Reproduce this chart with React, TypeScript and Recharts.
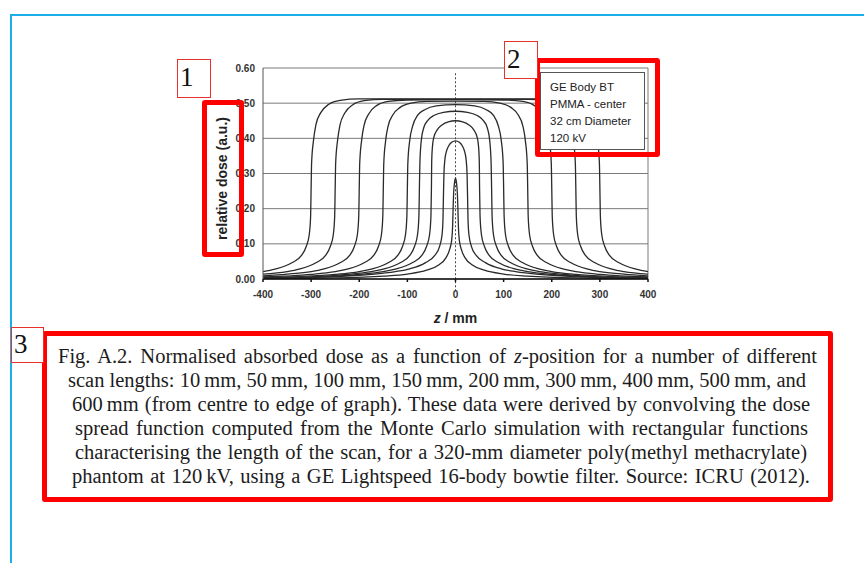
import React from 'react';
import { LineChart, Line, XAxis, YAxis, CartesianGrid, ReferenceLine } from 'recharts';

// half profiles (z >= 0, mm) of relative dose for each scan length
const scan10: [number, number][] = [
  [0, 0.287], [2, 0.275], [4, 0.24], [5, 0.2], [6, 0.15], [8, 0.11], [12, 0.085],
  [20, 0.06], [35, 0.04], [60, 0.025], [100, 0.014], [150, 0.008], [250, 0.003], [400, 0.001],
];
const scan50: [number, number][] = [
  [0, 0.393], [8, 0.389], [14, 0.379], [19, 0.362], [22, 0.34], [24, 0.3], [25, 0.24],
  [26, 0.17], [28, 0.125], [33, 0.093], [43, 0.067], [63, 0.046], [95, 0.029], [125, 0.021],
  [175, 0.013], [250, 0.007], [400, 0.002],
];
const scan100: [number, number][] = [
  [0, 0.45], [15, 0.447], [28, 0.438], [38, 0.424], [45, 0.403], [48, 0.375], [49.5, 0.33],
  [50, 0.26], [51, 0.18], [54, 0.125], [60, 0.093], [70, 0.067], [90, 0.046], [125, 0.028],
  [150, 0.021], [200, 0.013], [275, 0.006], [400, 0.002],
];
const scan150: [number, number][] = [
  [0, 0.477], [25, 0.474], [45, 0.465], [57, 0.452], [66, 0.43], [71, 0.395], [74, 0.33],
  [75, 0.26], [76, 0.18], [79, 0.125], [85, 0.093], [95, 0.067], [115, 0.046], [150, 0.028],
  [175, 0.021], [225, 0.013], [300, 0.006], [400, 0.003],
];
const scan200: [number, number][] = [
  [0, 0.496], [40, 0.492], [63, 0.482], [79, 0.465], [89, 0.435], [95, 0.395], [99, 0.33],
  [100, 0.26], [101, 0.18], [104, 0.125], [110, 0.093], [120, 0.067], [140, 0.046],
  [175, 0.028], [200, 0.021], [250, 0.013], [325, 0.007], [400, 0.004],
];
const scan300: [number, number][] = [
  [0, 0.506], [60, 0.505], [92, 0.5], [115, 0.488], [130, 0.467], [140, 0.435], [145, 0.395],
  [149, 0.33], [150, 0.26], [151, 0.18], [154, 0.125], [160, 0.093], [170, 0.067],
  [190, 0.046], [225, 0.028], [250, 0.021], [300, 0.013], [400, 0.006],
];
const scan400: [number, number][] = [
  [0, 0.51], [100, 0.509], [140, 0.505], [164, 0.493], [180, 0.47], [190, 0.437],
  [195, 0.395], [199, 0.33], [200, 0.26], [201, 0.18], [204, 0.125], [210, 0.093],
  [220, 0.067], [240, 0.046], [275, 0.028], [300, 0.021], [350, 0.014], [400, 0.009],
];
const scan500: [number, number][] = [
  [0, 0.511], [150, 0.511], [190, 0.507], [214, 0.495], [230, 0.472], [240, 0.438],
  [245, 0.395], [249, 0.33], [250, 0.26], [251, 0.18], [254, 0.125], [260, 0.093],
  [270, 0.067], [290, 0.046], [325, 0.028], [350, 0.021], [400, 0.014],
];
const scan600: [number, number][] = [
  [0, 0.512], [200, 0.512], [240, 0.508], [264, 0.496], [280, 0.473], [290, 0.439],
  [295, 0.395], [299, 0.33], [300, 0.26], [301, 0.18], [304, 0.125], [310, 0.093],
  [320, 0.067], [340, 0.046], [375, 0.028], [400, 0.021],
];

const xTicks = [-400, -300, -200, -100, 0, 100, 200, 300, 400];
const yTicks = [0, 0.1, 0.2, 0.3, 0.4, 0.5, 0.6];

const legendLines = ['GE Body BT', 'PMMA - center', '32 cm Diameter', '120 kV'];

const captionLines = [
  'Fig. A.2. Normalised absorbed dose as a function of |z|-position for a number of different',
  'scan lengths: 10\u2009mm, 50\u2009mm, 100 mm, 150\u2009mm, 200\u2009mm, 300\u2009mm, 400\u2009mm, 500\u2009mm, and',
  '600\u2009mm (from centre to edge of graph). These data were derived by convolving the dose',
  'spread function computed from the Monte Carlo simulation with rectangular functions',
  'characterising the length of the scan, for a 320-mm diameter poly(methyl methacrylate)',
  'phantom at 120\u2009kV, using a GE Lightspeed 16-body bowtie filter. Source: ICRU (2012).',
];

// profiles are symmetric about z = 0
const mirror = (half: [number, number][]) => [
  ...half.filter(([z]) => z > 0).reverse().map(([z, dose]) => ({ z: -z, dose })),
  ...half.map(([z, dose]) => ({ z, dose })),
];

const curves = [scan10, scan50, scan100, scan150, scan200, scan300, scan400, scan500, scan600].map(mirror);

const tickStyle = { fill: '#333', fontSize: 10, fontWeight: 700, fontFamily: 'Liberation Sans, Arial, sans-serif' };

function YLabel(props: any) {
  const { viewBox } = props;
  const x = viewBox.x + 19;
  const y = viewBox.y + viewBox.height / 2 + 5;
  return (
    <text
      x={x}
      y={y}
      transform={`rotate(-90 ${x} ${y})`}
      textAnchor="middle"
      dominantBaseline="central"
      fill="#222"
      fontSize={14}
      fontWeight={700}
      fontFamily="Liberation Sans, Arial, sans-serif"
    >
      relative dose (a.u.)
    </text>
  );
}

function XLabel(props: any) {
  const { viewBox } = props;
  return (
    <text
      x={viewBox.x + viewBox.width / 2}
      y={viewBox.y + 44}
      textAnchor="middle"
      fill="#222"
      fontSize={14}
      fontWeight={700}
      fontFamily="Liberation Sans, Arial, sans-serif"
    >
      <tspan fontStyle="italic">z</tspan> / mm
    </text>
  );
}

const numBox = (left: number, top: number, w: number, h: number, n: string) => (
  <div
    style={{
      position: 'absolute', left, top, width: w, height: h, boxSizing: 'border-box',
      border: '1.5px solid #e8302c', background: '#fff', paddingLeft: 2,
      fontFamily: 'Liberation Serif, serif', fontSize: 27, lineHeight: `${h - 4}px`, color: '#111',
    }}
  >
    {n}
  </div>
);

const redBox = (left: number, top: number, w: number, h: number) => (
  <div
    style={{
      position: 'absolute', left, top, width: w, height: h, boxSizing: 'border-box',
      border: '5px solid #ff0000', borderRadius: 3, pointerEvents: 'none',
    }}
  />
);

function CaptionLine({ text, left, right, top }: { text: string; left: number; right: number; top: number }) {
  const [a, b, c] = text.split('|');
  return (
    <div
      style={{
        position: 'absolute', left, top, width: right - left, height: 24,
        textAlign: 'justify', textAlignLast: 'justify',
        fontFamily: 'Liberation Serif, Times New Roman, serif', fontSize: 20.5, lineHeight: '24px', color: '#1c1c1c',
      }}
    >
      {a}
      {b !== undefined && <i>{b}</i>}
      {c}
    </div>
  );
}

const captionExtents: [number, number][] = [
  [58, 817], [68, 806], [72, 810], [75, 808], [75, 807], [72, 810],
];

export default function App() {
  return (
    <div style={{ position: 'absolute', left: 0, top: 0, width: 864, height: 563, background: '#fff', overflow: 'hidden' }}>
      <div style={{ position: 'absolute', left: 10, top: 14, width: 860, height: 2, background: '#1aaeea' }} />
      <div style={{ position: 'absolute', left: 10, top: 14, width: 2, height: 560, background: '#1aaeea' }} />

      <div style={{ position: 'absolute', left: 0, top: 0 }}>
        <LineChart width={864} height={563} margin={{ top: 68, right: 216, left: 203, bottom: 244 }}>
          <CartesianGrid vertical={false} stroke="#7a7a7a" strokeWidth={1} />
          <XAxis
            type="number"
            dataKey="z"
            domain={[-400, 400]}
            ticks={xTicks}
            allowDataOverflow
            height={40}
            tick={tickStyle}
            tickSize={3}
            tickMargin={9}
            stroke="#111"
            strokeWidth={1.5}
            label={<XLabel />}
          />
          <YAxis
            type="number"
            domain={[0, 0.6]}
            ticks={yTicks}
            allowDataOverflow
            width={60}
            tick={tickStyle}
            tickLine={false}
            tickFormatter={(v: number) => v.toFixed(2)}
            stroke="#555"
            label={<YLabel />}
          />
          <ReferenceLine x={400} stroke="#7a7a7a" />
          <ReferenceLine
            segment={[{ x: 0, y: 0.585 }, { x: 0, y: -0.035 }]}
            ifOverflow="visible"
            stroke="#444"
            strokeDasharray="2 2"
          />
          {curves.map((data, i) => (
            <Line
              key={i}
              data={data}
              dataKey="dose"
              type="monotone"
              dot={false}
              stroke="#2a2a2a"
              strokeWidth={1.3}
              isAnimationActive={false}
            />
          ))}
        </LineChart>
      </div>

      <div
        style={{
          position: 'absolute', left: 540, top: 72, width: 105, height: 78, boxSizing: 'border-box',
          border: '1px solid #555', background: '#fff', padding: '6px 0 0 9px',
          fontFamily: 'Liberation Sans, Arial, sans-serif', fontSize: 11.5, lineHeight: '17px', color: '#222',
        }}
      >
        {legendLines.map((t) => (
          <div key={t} style={{ whiteSpace: 'nowrap' }}>{t}</div>
        ))}
      </div>

      {redBox(202, 100, 42, 157)}
      {redBox(535, 58, 125, 99)}
      {redBox(42, 331, 791, 171)}

      {numBox(177, 59, 34, 39, '1')}
      {numBox(504, 41, 34, 38, '2')}
      {numBox(11, 327, 33, 36, '3')}

      {captionLines.map((t, i) => (
        <CaptionLine key={i} text={t} left={captionExtents[i][0]} right={captionExtents[i][1]} top={344 + i * 24} />
      ))}
    </div>
  );
}
